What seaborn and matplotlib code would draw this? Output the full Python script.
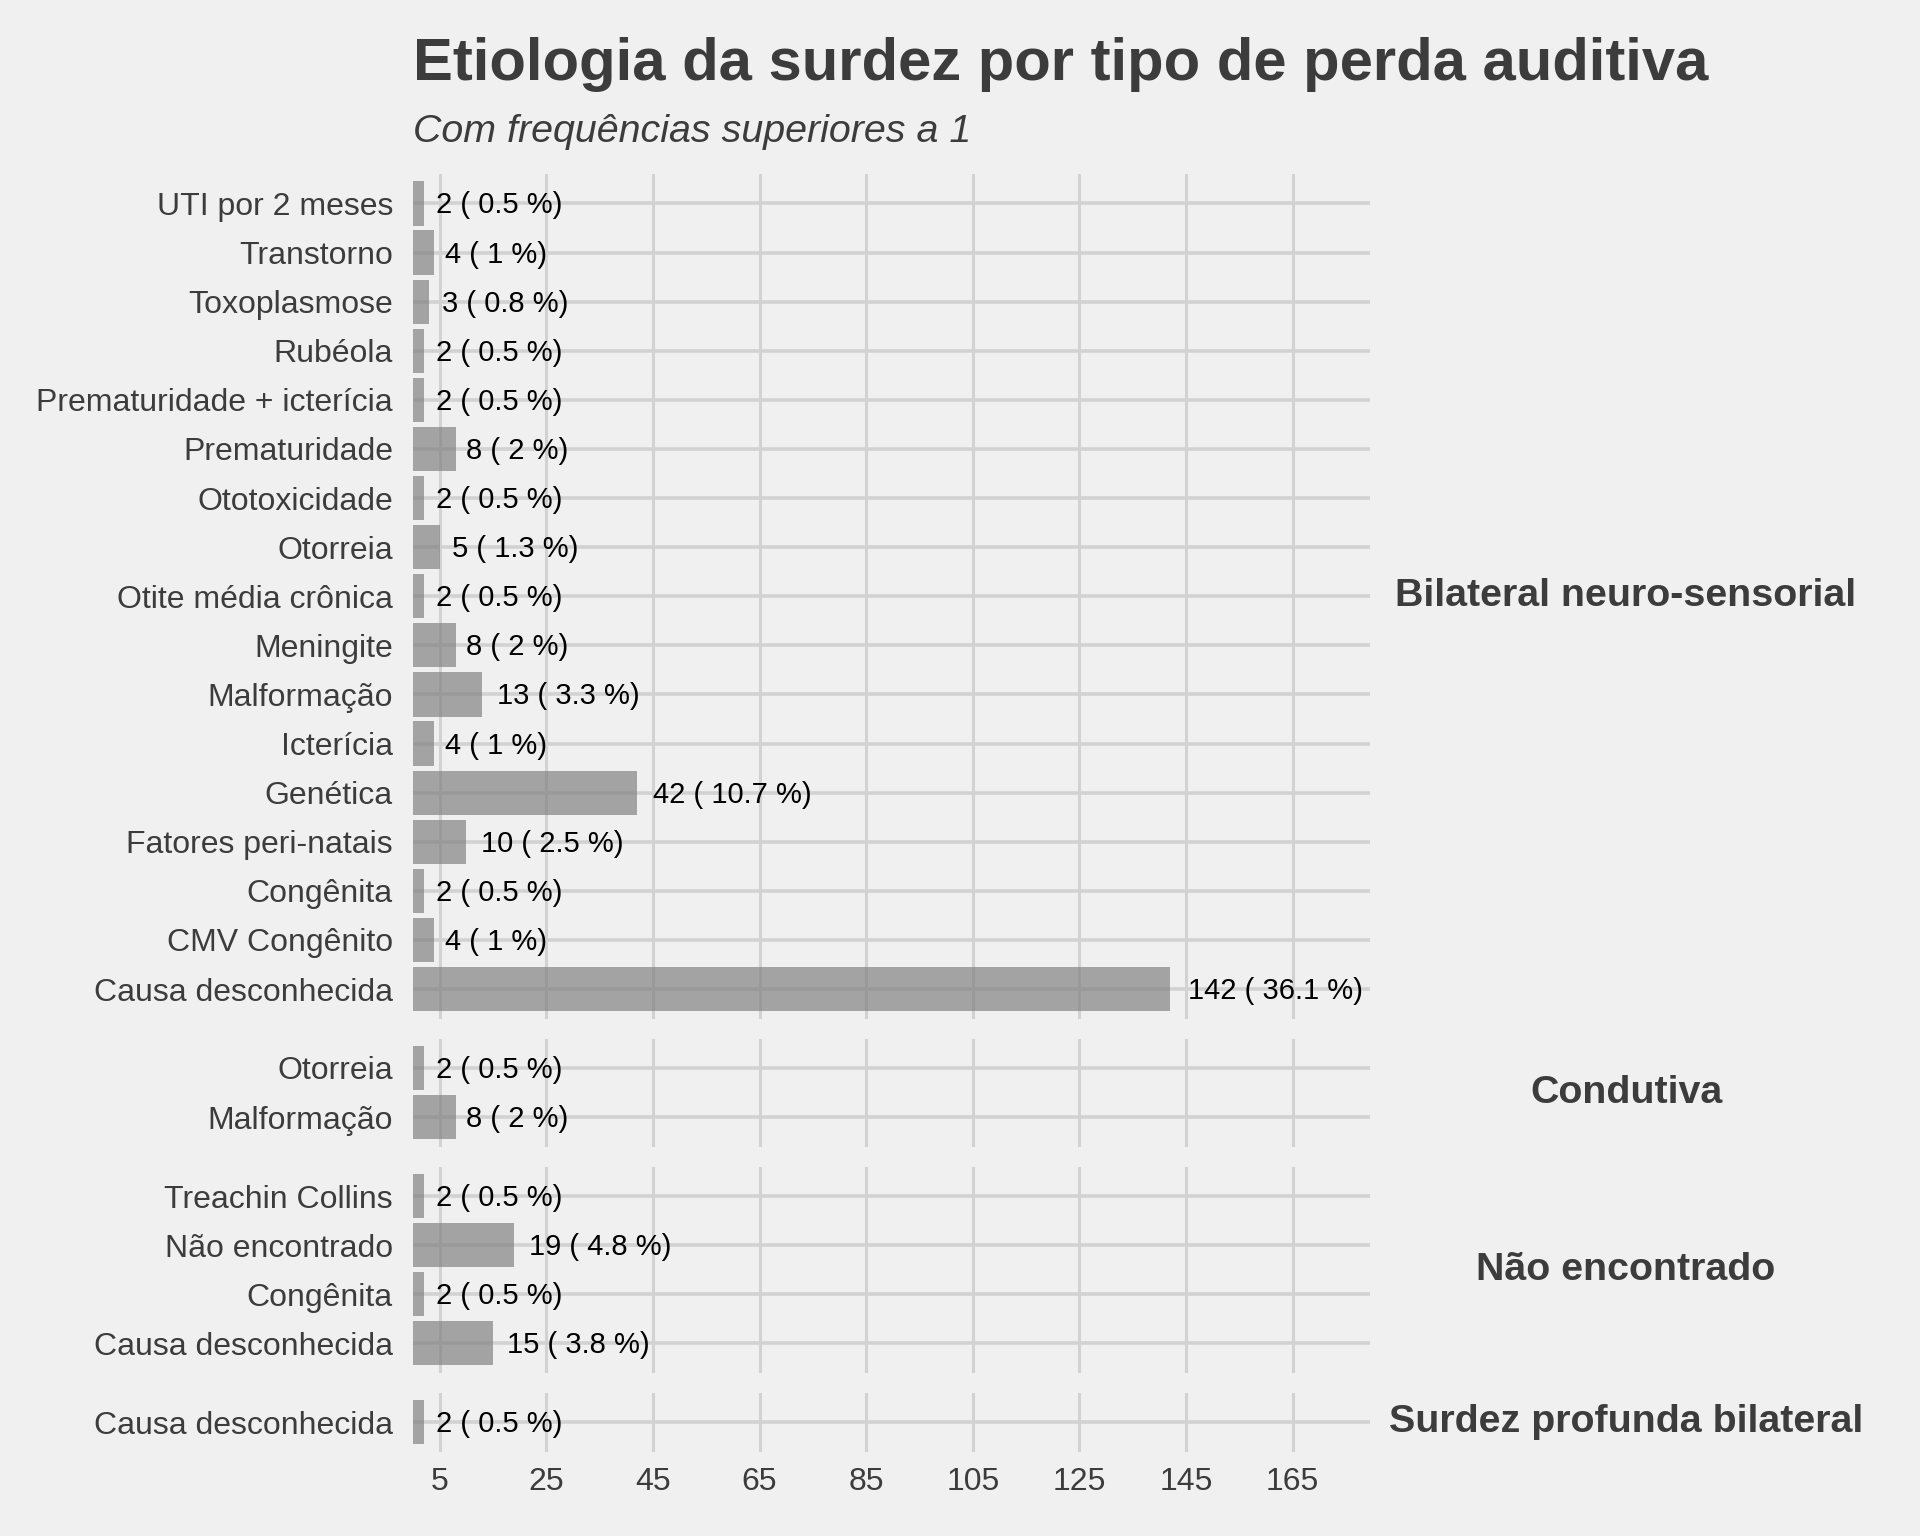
import matplotlib
matplotlib.use("Agg")
import matplotlib.pyplot as plt
from matplotlib.transforms import offset_copy
import pandas as pd
import seaborn as sns

# dados
grupos = ["Bilateral neuro-sensorial", "Condutiva", "Não encontrado", "Surdez profunda bilateral"]

causas_bns = ["UTI por 2 meses", "Transtorno", "Toxoplasmose", "Rubéola",
              "Prematuridade + icterícia", "Prematuridade", "Ototoxicidade", "Otorreia",
              "Otite média crônica", "Meningite", "Malformação", "Icterícia", "Genética",
              "Fatores peri-natais", "Congênita", "CMV Congênito", "Causa desconhecida"]
n_bns = [2, 4, 3, 2, 2, 8, 2, 5, 2, 8, 13, 4, 42, 10, 2, 4, 142]
pct_bns = [0.5, 1, 0.8, 0.5, 0.5, 2, 0.5, 1.3, 0.5, 2, 3.3, 1, 10.7, 2.5, 0.5, 1, 36.1]

causas_cond = ["Otorreia", "Malformação"]
n_cond = [2, 8]
pct_cond = [0.5, 2]

causas_ne = ["Treachin Collins", "Não encontrado", "Congênita", "Causa desconhecida"]
n_ne = [2, 19, 2, 15]
pct_ne = [0.5, 4.8, 0.5, 3.8]

causas_spb = ["Causa desconhecida"]
n_spb = [2]
pct_spb = [0.5]

x_ticks = [5, 25, 45, 65, 85, 105, 125, 145, 165]

paineis = [
    (grupos[0], causas_bns, n_bns, pct_bns),
    (grupos[1], causas_cond, n_cond, pct_cond),
    (grupos[2], causas_ne, n_ne, pct_ne),
    (grupos[3], causas_spb, n_spb, pct_spb),
]

BG = "#F0F0F0"
GRID = "#D2D2D2"
TXT = "#3C3C3C"

sns.set_style("white")
plt.rcParams["font.family"] = ["Liberation Sans", "DejaVu Sans"]

W, H = 1920, 1536
fig = plt.figure(figsize=(9.6, 7.68), dpi=200, facecolor=BG)

# layout em pixels (facet_grid com space="free_y")
left, right = 413, 1370
unit = 49.1
gap = 20
top = 174

renderer = fig.canvas.get_renderer()
y0 = top
for i, (grupo, causas, ns, pcts) in enumerate(paineis):
    h = (len(causas) + 0.2) * unit
    ax = fig.add_axes([left / W, 1 - (y0 + h) / H, (right - left) / W, h / H])
    ax.set_facecolor(BG)
    df = pd.DataFrame({"causa": causas, "n": ns})
    sns.barplot(data=df, x="n", y="causa", orient="h", color="#7F7F7F",
                saturation=1, alpha=0.68, width=0.9, linewidth=0, ax=ax, zorder=2)
    ax.set_xlim(0, 179.5)
    ax.set_ylim(len(causas) - 1 + 0.6, -0.6)
    ax.set_xticks(x_ticks)
    for xt in x_ticks:
        ax.axvline(xt, color=GRID, lw=1.1, zorder=0)
    for j in range(len(causas)):
        ax.axhline(j, color=GRID, lw=1.3, zorder=0)
    for s in ax.spines.values():
        s.set_visible(False)
    ax.set_xlabel("")
    ax.set_ylabel("")
    ax.tick_params(axis="both", length=0, colors=TXT, labelsize=11.5)
    ax.tick_params(axis="y", pad=7.2)
    ax.tick_params(axis="x", pad=5.5)
    if i < len(paineis) - 1:
        ax.set_xticklabels([])

    # rotulos "n ( p %)" com hjust = -0.1
    for j, (n, p) in enumerate(zip(ns, pcts)):
        lab = f"{n} ( {p:g} %)"
        t = ax.text(n, j, lab, fontsize=10.5, color="black", va="center", ha="left")
        w = t.get_window_extent(renderer=renderer).width
        t.set_transform(offset_copy(ax.transData, fig=fig, x=0.1 * w, y=-2, units="dots"))

    # rotulo da faceta a direita
    fig.text(1626 / W, 1 - (y0 + h / 2) / H, grupo, fontsize=14.2, fontweight="bold",
             color=TXT, ha="center", va="center")
    y0 += h + gap

fig.text(left / W, 1 - 64 / H, "Etiologia da surdez por tipo de perda auditiva",
         fontsize=21.5, fontweight="bold", color=TXT, ha="left", va="center")
fig.text(left / W, 1 - 132 / H, "Com frequências superiores a 1",
         fontsize=14.2, style="italic", color=TXT, ha="left", va="center")

fig.savefig("out.png", dpi=200, facecolor=BG)
